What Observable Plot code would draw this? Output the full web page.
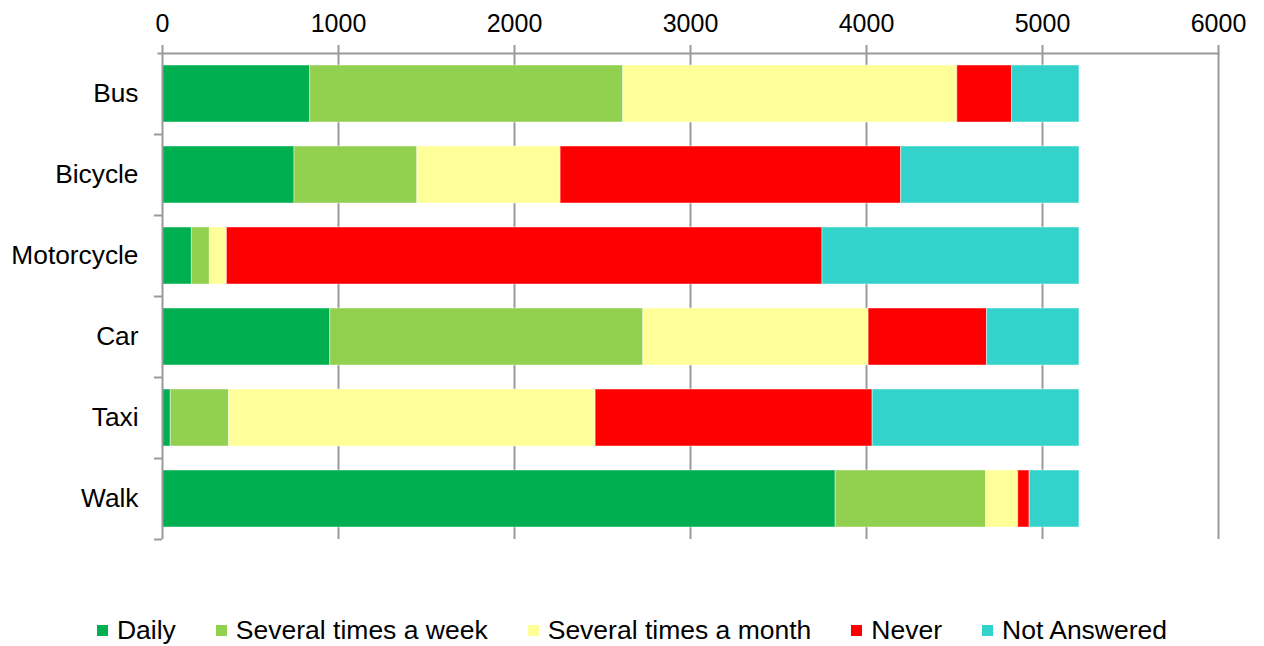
<!DOCTYPE html>
<html>
<head>
<meta charset="utf-8">
<script src="https://cdn.jsdelivr.net/npm/d3@7"></script>
<script src="https://cdn.jsdelivr.net/npm/@observablehq/plot@0.6"></script>
<style>
  html, body { margin: 0; padding: 0; background: #fff; }
  body { width: 1264px; height: 646px; overflow: hidden; font-family: "Liberation Sans", Arial, sans-serif; }
  #chart svg { display: block; }
  #legend { display: flex; justify-content: center; align-items: center; gap: 40px; height: 46px; box-sizing: border-box; padding-top: 14px; font-size: 26.5px; color: #000; padding-left: 0px; }
  .item { display: flex; align-items: center; white-space: nowrap; }
  .sw { width: 11px; height: 11px; margin-right: 9px; }
</style>
</head>
<body>
<div id="chart"></div>
<div id="legend"></div>
<script>
const categories = ["Bus", "Bicycle", "Motorcycle", "Car", "Taxi", "Walk"];
const series = ["Daily", "Several times a week", "Several times a month", "Never", "Not Answered"];
const daily = [839, 750, 167, 953, 47, 3825];
const severalWeek = [1779, 698, 102, 1779, 331, 854];
const severalMonth = [1898, 814, 97, 1280, 2083, 183];
const never = [311, 1935, 3384, 673, 1574, 65];
const notAnswered = [383, 1013, 1460, 525, 1175, 283];
const xTicks = [0, 1000, 2000, 3000, 4000, 5000, 6000];
const colors = ["#00B050", "#92D050", "#FFFF99", "#FF0000", "#33D3CB"];

const seriesValues = [daily, severalWeek, severalMonth, never, notAnswered];
const data = [];
categories.forEach((c, i) => {
  series.forEach((s, j) => data.push({category: c, status: s, value: seriesValues[j][i]}));
});

const axisColor = "#9a9a9a";

const chart = Plot.plot({
  width: 1264,
  height: 600,
  marginTop: 53,
  marginBottom: 61,
  marginLeft: 162,
  marginRight: 46,
  style: {fontFamily: "'Liberation Sans', Arial, sans-serif", fontSize: "25px", color: "#000", background: "#fff"},
  x: {domain: [0, 6000], axis: null},
  y: {domain: categories, paddingInner: 0.296, paddingOuter: 0.148, axis: null},
  color: {domain: series, range: colors},
  marks: [
    Plot.ruleX(xTicks.filter(d => d > 0), {stroke: axisColor, strokeWidth: 2, insetTop: -8}),
    Plot.barX(data, Plot.stackX({x: "value", y: "category", fill: "status", z: "status", order: series, stroke: "#ffffff", strokeOpacity: 0.45, strokeWidth: 1})),
    Plot.ruleX([0], {stroke: axisColor, strokeWidth: 2, insetTop: -8}),
    Plot.frame({anchor: "top", stroke: axisColor, strokeWidth: 2, insetLeft: -4}),
    Plot.axisX({anchor: "top", ticks: xTicks, tickSize: 0, tickPadding: 22, label: null, fontSize: 25, tickFormat: d => String(d)}),
    Plot.axisY({anchor: "left", tickSize: 0, tickPadding: 24, label: null, fontSize: 26.3}),
    Plot.axisY({anchor: "left", tickSize: 8, tickFormat: () => "", label: null, stroke: axisColor, strokeWidth: 2, dy: 40.5})
  ]
});
document.getElementById("chart").appendChild(chart);

const legend = document.getElementById("legend");
series.forEach((s, i) => {
  const item = document.createElement("div");
  item.className = "item";
  const sw = document.createElement("span");
  sw.className = "sw";
  sw.style.background = colors[i];
  const t = document.createElement("span");
  t.textContent = s;
  item.appendChild(sw);
  item.appendChild(t);
  legend.appendChild(item);
});
</script>
</body>
</html>
